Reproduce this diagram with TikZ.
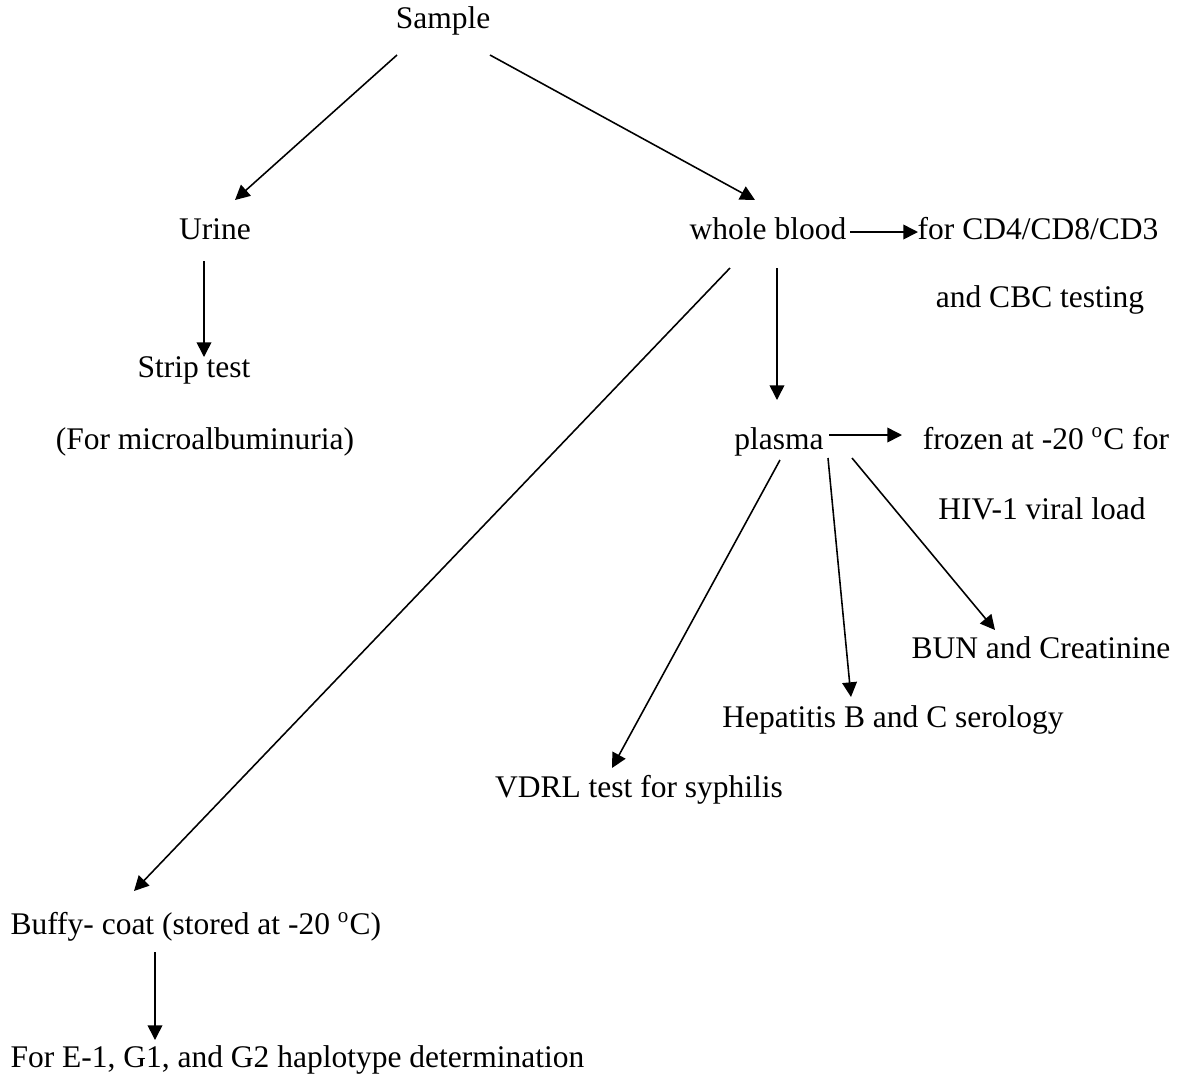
\documentclass[tikz,border=0pt]{standalone}
\usepackage{fontspec}
\setmainfont{Liberation Serif}
\usetikzlibrary{arrows.meta}

\begin{document}
\begin{tikzpicture}[x=0.381pt, y=-0.381pt,
    every node/.style={font=\fontsize{12}{14}\selectfont, inner sep=0pt, anchor=base},
    arr/.style={-{Triangle[length=5.6pt, width=5.6pt]}, line width=0.6pt}]
    \useasboundingbox (0,0) rectangle (1179,1084);

    \node (sample) at (443,28) {Sample};
    \node (urine) at (215,239) {Urine};
    \node (blood) at (768,239) {whole blood};
    \node (cdtest) at (1038,239) {for CD4/CD8/CD3};
    \node (cbc) at (1040,307) {and CBC testing};
    \node (strip) at (194,377) {Strip test};
    \node (micro) at (205,449) {(For microalbuminuria)};
    \node (plasma) at (779,449) {plasma};
    \node (frozen) at (1046,449) {frozen at -20 \textsuperscript{o}C for};
    \node (hiv) at (1042,519) {HIV-1 viral load};
    \node (bun) at (1041,658) {BUN and Creatinine};
    \node (hep) at (893,727) {Hepatitis B and C serology};
    \node (vdrl) at (639,797) {VDRL test for syphilis};
    \node[anchor=base west] (buffy) at (10,934) {Buffy- coat (stored at -20 \textsuperscript{o}C)};
    \node[anchor=base west] (haplo) at (10,1067) {For E-1, G1, and G2 haplotype determination};

    \draw[arr] ([shift={(-46,27)}]sample.base) -- ([shift={(20,-39)}]urine.base);
    \draw[arr] ([shift={(47,27)}]sample.base) -- ([shift={(-13,-39)}]blood.base);
    \draw[arr] ([shift={(-11,22)}]urine.base) -- ([shift={(10,-20)}]strip.base);
    \draw[arr] ([shift={(82,-7)}]blood.base) -- ([shift={(-120,-7)}]cdtest.base);
    \draw[arr] ([shift={(9,29)}]blood.base) -- ([shift={(-2,-49)}]plasma.base);
    \draw[arr] ([shift={(-38,29)}]blood.base) -- ([shift={(124,-43)}]buffy.base west);
    \draw[arr] ([shift={(50,-14)}]plasma.base) -- ([shift={(-144,-14)}]frozen.base);
    \draw[arr] ([shift={(1,11)}]plasma.base) -- ([shift={(-27,-29)}]vdrl.base);
    \draw[arr] ([shift={(49,9)}]plasma.base) -- ([shift={(-42,-30)}]hep.base);
    \draw[arr] ([shift={(73,9)}]plasma.base) -- ([shift={(-46,-28)}]bun.base);
    \draw[arr] ([shift={(145,18)}]buffy.base west) -- ([shift={(145,-27)}]haplo.base west);
\end{tikzpicture}
\end{document}
